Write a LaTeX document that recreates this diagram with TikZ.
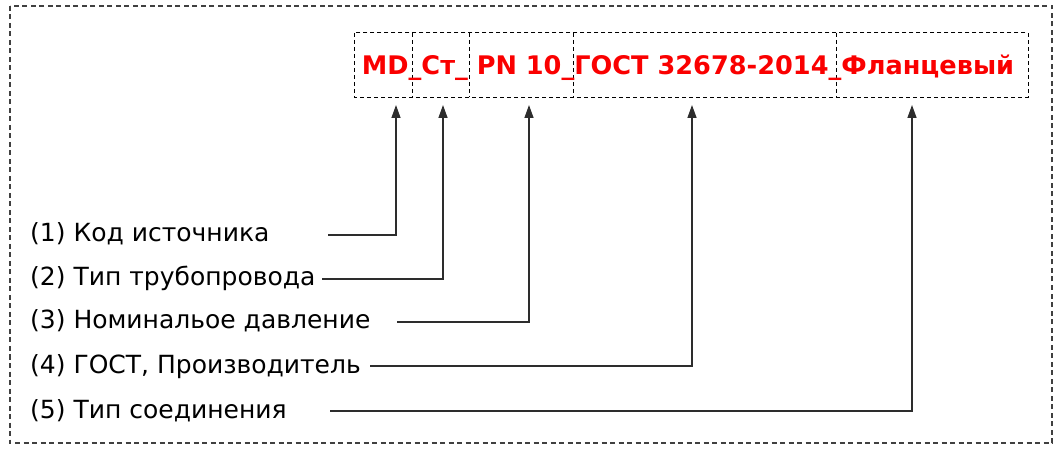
\documentclass[tikz,border=0pt]{standalone}
\usepackage{fontspec}
\setmainfont{DejaVu Sans}
\usepackage{tikz}
\usetikzlibrary{calc,positioning,arrows.meta}
\usepackage{xcolor}
\definecolor{codec}{RGB}{250,0,0}
\definecolor{leadc}{RGB}{45,45,45}
\tikzset{
  frame/.style={draw=black!75,line width=1.1pt,dash pattern=on 5pt off 3.5pt},
  seg/.style={rectangle,minimum height=64pt,inner sep=0pt},
  segline/.style={draw=black,line width=1.3pt,dash pattern=on 4pt off 3pt},
  lbl/.style={anchor=base west,font=\fontsize{25}{28}\selectfont,inner sep=0pt},
  lead/.style={-{Triangle[length=13pt,width=9pt]},line width=1.4pt,leadc},
}

\begin{document}
\begin{tikzpicture}[x=1pt,y=-1pt]
  \useasboundingbox (0,0) rectangle (1063,454);
  \draw[frame] (10,6) rectangle (1052,443);
  % segments of the code
  \node[seg,minimum width=57pt](b1) at (383.5,65){}; \node[seg,minimum width=57pt](b2) at (440.5,65){};
  \node[seg,minimum width=104pt](b3) at (521,65){}; \node[seg,minimum width=263pt](b4) at (704.5,65){};
  \node[seg,minimum width=192pt](b5) at (932,65){};
  \draw[segline] (b1.north west) rectangle (b5.south east);
  \foreach \b in {b1,b2,b3,b4}
    {\draw[segline] (\b.north east) -- (\b.south east);}
  \node[anchor=base,font=\fontsize{25.6}{28}\selectfont\bfseries,text=codec,inner sep=0pt](code) at (688,75){MD\_Ст\_ PN 10\_ГОСТ 32678-2014\_Фланцевый};
  % labels
  \node[lbl](l1) at (30,242){(1) Код источника};
  \node[lbl](l2) at (30,286){(2) Тип трубопровода};
  \node[lbl](l3) at (30,329){(3) Номинальое давление};
  \node[lbl](l4) at (30,373){(4) ГОСТ, Производитель};
  \node[lbl](l5) at (30,418){(5) Тип соединения};
  % leader ends
  \coordinate (s1) at (328,235); \coordinate (t1) at (396,105);
  \coordinate (s2) at (322,279); \coordinate (t2) at (443,105);
  \coordinate (s3) at (397,322); \coordinate (t3) at (529,105);
  \coordinate (s4) at (370,366); \coordinate (t4) at (692,105);
  \coordinate (s5) at (330,411); \coordinate (t5) at (912,105);
  \foreach \i in {1,...,5}
    {\draw[lead] (s\i) -| (t\i);}
\end{tikzpicture}
\end{document}
